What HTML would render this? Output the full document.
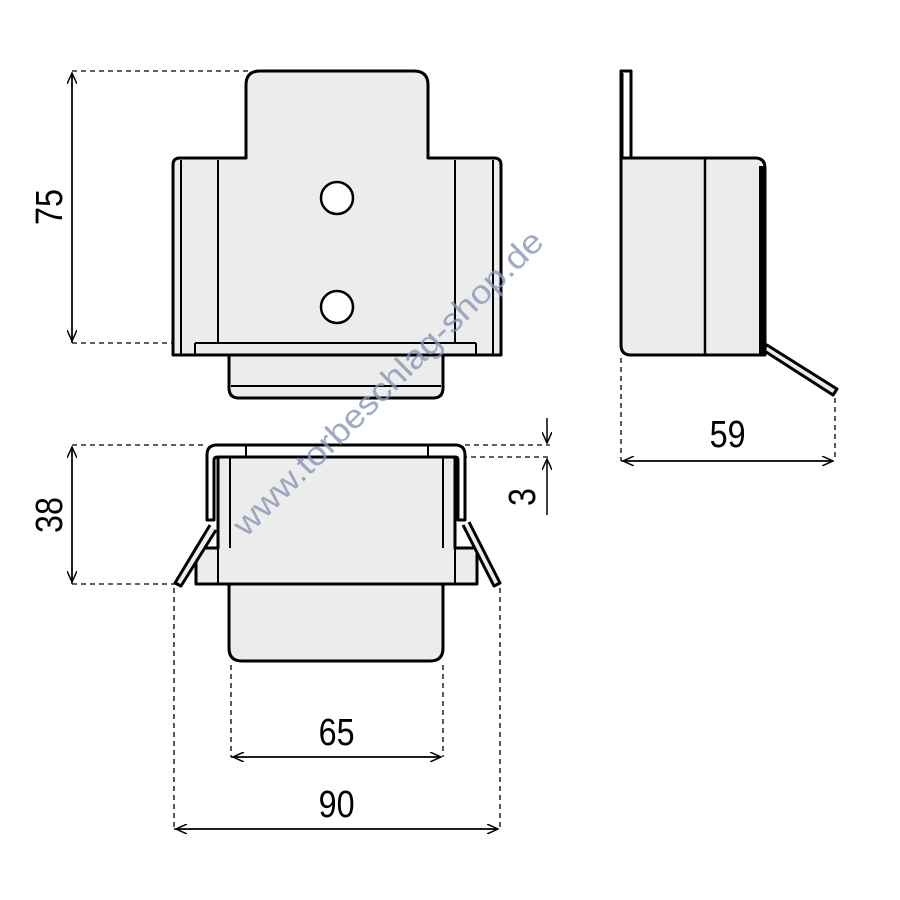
<!DOCTYPE html>
<html><head><meta charset="utf-8"><style>html,body{margin:0;padding:0;background:#fff}svg{display:block}</style></head>
<body>
<svg width="900" height="900" viewBox="0 0 900 900" xmlns="http://www.w3.org/2000/svg" font-family="Liberation Sans, sans-serif">
<defs>
<marker id="a" markerWidth="12" markerHeight="10" refX="11" refY="5" orient="auto" markerUnits="userSpaceOnUse"><path d="M0,0 L11,5 L0,10" fill="none" stroke="#000" stroke-width="1.5"/></marker>
</defs>
<g stroke="#000" stroke-width="1.3" stroke-dasharray="5,4" fill="none">
<line x1="72" y1="71" x2="250" y2="71"/><line x1="72" y1="343" x2="175" y2="343"/>
<line x1="72" y1="445" x2="207" y2="445"/><line x1="72" y1="584" x2="178" y2="584"/>
<line x1="465" y1="445" x2="550" y2="445"/><line x1="462" y1="457" x2="550" y2="457"/>
<line x1="231" y1="665" x2="231" y2="757"/><line x1="443" y1="665" x2="443" y2="757"/>
<line x1="174" y1="588" x2="174" y2="829"/><line x1="500" y1="588" x2="500" y2="829"/>
<line x1="621" y1="358" x2="621" y2="461"/><line x1="835" y1="398" x2="835" y2="461"/>
</g>
<g stroke="#000" stroke-width="1.5" fill="none">
<line x1="72" y1="343" x2="72" y2="73" marker-end="url(#a)"/><line x1="72" y1="73" x2="72" y2="341" marker-end="url(#a)"/>
<line x1="72" y1="584" x2="72" y2="447" marker-end="url(#a)"/><line x1="72" y1="447" x2="72" y2="582" marker-end="url(#a)"/>
<line x1="547" y1="418" x2="547" y2="443" marker-end="url(#a)"/><line x1="547" y1="515" x2="547" y2="459" marker-end="url(#a)"/>
<line x1="231" y1="757" x2="441" y2="757" marker-end="url(#a)"/><line x1="441" y1="757" x2="233" y2="757" marker-end="url(#a)"/>
<line x1="174" y1="829" x2="498" y2="829" marker-end="url(#a)"/><line x1="498" y1="829" x2="176" y2="829" marker-end="url(#a)"/>
<line x1="621" y1="461" x2="833" y2="461" marker-end="url(#a)"/><line x1="833" y1="461" x2="623" y2="461" marker-end="url(#a)"/>
</g>
<!-- top view -->
<g stroke="#000" stroke-width="3" fill="#ececec" stroke-linejoin="round">
<path d="M229,343 L443,343 L443,388 Q443,398 433,398 L239,398 Q229,398 229,388 Z"/>
<path d="M246,158 L246,85 Q246,71 260,71 L414,71 Q428,71 428,85 L428,158 L494,158 Q501,158 501,165 L501,355 L173,355 L173,165 Q173,158 180,158 Z"/>
</g>
<g stroke="#000" stroke-width="2" fill="none">
<line x1="181" y1="160" x2="181" y2="355"/><line x1="218" y1="160" x2="218" y2="343"/>
<line x1="455" y1="160" x2="455" y2="343"/><line x1="493" y1="160" x2="493" y2="355"/>
<line x1="195" y1="343" x2="476" y2="343"/><line x1="195" y1="343" x2="195" y2="355"/><line x1="476" y1="343" x2="476" y2="355"/>
<line x1="231" y1="386" x2="441" y2="386"/>
</g>
<circle cx="337" cy="198" r="16" fill="#fff" stroke="#000" stroke-width="2.5"/>
<circle cx="337" cy="307" r="16" fill="#fff" stroke="#000" stroke-width="2.5"/>
<!-- bottom view -->
<g stroke="#000" stroke-width="3" fill="#ececec" stroke-linejoin="round">
<path d="M229,584 L443,584 L443,648 Q443,661 430,661 L242,661 Q229,661 229,648 Z"/>
<path d="M196,584 L196,548 L218,548 L218,457 L455,457 L455,548 L477,548 L477,584 Z"/>
<path d="M207,455 Q207,445 217,445 L455,445 Q465,445 465,455 L465,520 L458,520 L458,460 Q458,457 455,457 L218,457 Q214,457 214,460 L214,520 L207,520 Z" fill="#fff"/>
<path d="M210,525 L175,583 L181,586 L216,530" fill="#ececec"/>
<path d="M463,525 L494,586 L500,583 L469,522" fill="#ececec"/>
</g>
<g stroke="#000" stroke-width="2" fill="none">
<line x1="230" y1="457" x2="230" y2="548"/><line x1="443" y1="457" x2="443" y2="548"/>
<line x1="218" y1="548" x2="218" y2="584"/><line x1="455" y1="548" x2="455" y2="584"/>
<line x1="246" y1="445" x2="246" y2="457"/><line x1="428" y1="445" x2="428" y2="457"/>
</g>
<!-- side view -->
<g stroke="#000" stroke-width="3" fill="#ececec" stroke-linejoin="round">
<path d="M763,350 L833,395 L837,389 L767,345 Z" fill="#ececec"/>
<rect x="621" y="71" width="10" height="87" fill="#fff"/>
<path d="M621,158 L755,158 Q765,158 765,168 L765,355 L631,355 Q621,355 621,345 Z"/>
</g>
<line x1="705" y1="158" x2="705" y2="355" stroke="#000" stroke-width="2.5"/>
<rect x="759" y="166" width="7" height="190" fill="#000"/>
<line x1="622" y1="73" x2="622" y2="158" stroke="#000" stroke-width="3"/>
<!-- labels -->
<g font-size="38" fill="#000" text-anchor="middle">
<text x="337" y="745" transform="scale(0.85,1) translate(59,0)">65</text>
<text x="337" y="817" transform="scale(0.85,1) translate(59,0)">90</text>
<text x="728" y="447" transform="scale(0.85,1) translate(128,0)">59</text>
<text transform="translate(62,207) rotate(-90) scale(0.85,1)">75</text>
<text transform="translate(62,515) rotate(-90) scale(0.85,1)">38</text>
<text transform="translate(535,497) rotate(-90) scale(0.85,1)">3</text>
</g>
<text transform="translate(246,538) rotate(-44.5)" font-size="33" fill="#8a93b5" fill-opacity="0.8" textLength="420" lengthAdjust="spacingAndGlyphs">www.torbeschlag-shop.de</text>
</svg>
</body></html>
